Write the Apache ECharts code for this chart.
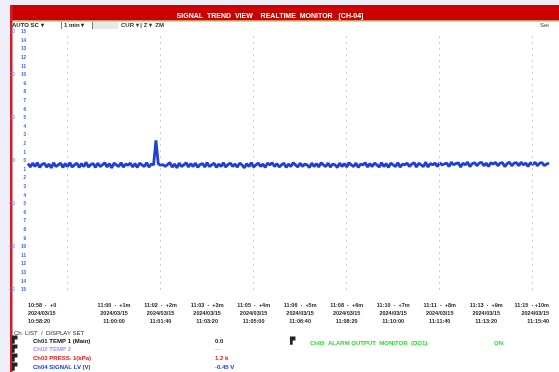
<!DOCTYPE html>
<html><head><meta charset="utf-8">
<script src="https://cdn.jsdelivr.net/npm/echarts@6/dist/echarts.min.js"></script>
<style>html,body{margin:0;padding:0;background:#eeeef8}#c{width:559px;height:372px}</style>
</head><body><div id="c"></div>
<script>
const titleText = 'SIGNAL  TREND  VIEW    REALTIME  MONITOR   [CH-04]';
const xStart = -85, xStep = 5;
const xLabelValues = [-85, 100, 200, 300, 400, 500, 600, 700, 800, 900, 1035];
const xLabels = [
 '10:58  ·  +0\n2024/03/15\n10:58:20',
 '11:00  ·  +1m\n2024/03/15\n11:00:00',
 '11:02  ·  +2m\n2024/03/15\n11:01:40',
 '11:03  ·  +3m\n2024/03/15\n11:03:20',
 '11:05  ·  +4m\n2024/03/15\n11:05:00',
 '11:06  ·  +5m\n2024/03/15\n11:06:40',
 '11:08  ·  +6m\n2024/03/15\n11:08:20',
 '11:10  ·  +7m\n2024/03/15\n11:10:00',
 '11:11  ·  +8m\n2024/03/15\n11:11:40',
 '11:13  ·  +9m\n2024/03/15\n11:13:20',
 '11:15  · +10m\n2024/03/15\n11:15:40'
];
const gridValues = [0, 200, 400, 600, 800, 1000];
const signal = [
 -0.30,-0.70,-0.25,-0.65,-0.20,-0.75,-0.40,-0.25,-0.70,-0.35,-0.80,-0.20,-0.65,-0.45,-0.25,
 -0.75,-0.30,-0.65,-0.20,-0.70,-0.45,-0.25,-0.75,-0.30,-0.65,-0.15,-0.70,-0.40,-0.30,-0.75,
 -0.25,-0.65,-0.45,-0.20,-0.70,-0.30,-0.80,-0.25,-0.45,-0.65,-0.20,-0.70,-0.35,-0.50,-0.25,
 -0.70,-0.30,-0.75,-0.25,-0.45,-0.65,-0.20,-0.70,-0.35,-0.45, 2.40,-0.30,-0.50,-0.40,-0.65,
 -0.40,-0.20,-0.70,-0.35,-0.80,-0.25,-0.65,-0.45,-0.20,-0.70,-0.30,-0.65,-0.25,-0.75,-0.40,
 -0.30,-0.70,-0.20,-0.65,-0.45,-0.25,-0.75,-0.35,-0.65,-0.20,-0.70,-0.40,-0.25,-0.65,-0.35,
 -0.70,-0.25,-0.45,-0.80,-0.30,-0.65,-0.20,-0.70,-0.45,-0.25,-0.65,-0.35,-0.75,-0.25,-0.45,
 -0.20,-0.65,-0.30,-0.70,-0.45,-0.25,-0.75,-0.35,-0.65,-0.20,-0.45,-0.70,-0.25,-0.65,-0.35,
 -0.45,-0.75,-0.25,-0.65,-0.30,-0.70,-0.20,-0.45,-0.65,-0.25,-0.70,-0.35,-0.45,-0.75,-0.25,
 -0.65,-0.30,-0.70,-0.20,-0.45,-0.65,-0.25,-0.75,-0.35,-0.45,-0.20,-0.70,-0.30,-0.65,-0.25,
 -0.45,-0.70,-0.20,-0.65,-0.30,-0.75,-0.25,-0.45,-0.65,-0.20,-0.70,-0.35,-0.45,-0.25,-0.65,
 -0.35,-0.20,-0.70,-0.25,-0.45,-0.65,-0.15,-0.70,-0.30,-0.45,-0.25,-0.65,-0.20,-0.45,-0.35,
 -0.25,-0.65,-0.15,-0.45,-0.30,-0.20,-0.70,-0.25,-0.45,-0.15,-0.65,-0.30,-0.20,-0.55,-0.25,
 -0.15,-0.55,-0.25,-0.65,-0.20,-0.35,-0.15,-0.55,-0.25,-0.20,-0.65,-0.30,-0.15,-0.55,-0.25,
 -0.20,-0.55,-0.15,-0.45,-0.25,-0.65,-0.20,-0.40,-0.15,-0.55,-0.25,-0.20,-0.55,-0.35,-0.25
];
const legendHeader = 'Ch. LIST  /  DISPLAY SET';
const legendRows = ['Ch01 TEMP 1 (Main)', 'Ch02 TEMP 2', 'Ch03 PRESS. 1(kPa)', 'Ch04 SIGNAL LV (V)'];
const legendValues = ['0.0', '---', '1.2 k', '-0.45 V'];
const legendColors = ['#111111', '#a98cff', '#ee1111', '#1133ee'];
const alarmText = 'Ch05  ALARM OUTPUT  MONITOR  (DO1)';
const alarmState = 'ON';

const chart = echarts.init(document.getElementById('c'), null, {renderer: 'canvas'});
const seriesData = signal.map((v, i) => [xStart + i * xStep, v]);
const font = 'Liberation Sans';
const graphics = [
  {type:'rect', z:-10, shape:{x:10,y:5,width:549,height:367}, style:{fill:'#ffffff'}},
  {type:'rect', z:-9, shape:{x:10,y:5,width:549,height:15}, style:{fill:'#cc0000'}},
  {type:'rect', z:-9, shape:{x:10,y:20,width:549,height:1.5}, style:{fill:'#c49a5a'}},
  {type:'rect', z:-9, shape:{x:10,y:5,width:2.5,height:367}, style:{fill:'#cc1f2a'}},
  {type:'rect', z:-9, shape:{x:93,y:22,width:25,height:7}, style:{fill:'#e8e8e8'}},
  {type:'text', z:5, x:12, y:22, style:{text:'AUTO SC ▾', font:'bold 6px '+font, fill:'#222'}},
  {type:'rect', z:5, shape:{x:61,y:22,width:0.8,height:7}, style:{fill:'#555'}},
  {type:'text', z:5, x:64, y:22, style:{text:'1 min ▾', font:'bold 6px '+font, fill:'#222'}},
  {type:'rect', z:5, shape:{x:92,y:22,width:0.8,height:7}, style:{fill:'#555'}},
  {type:'text', z:5, x:121, y:22, style:{text:'CUR ▾ | Z ▾  ZM', font:'bold 6px '+font, fill:'#333'}},
  {type:'text', z:5, x:540, y:22, style:{text:'Set', font:'6px '+font, fill:'#444'}},
  {type:'text', z:5, x:14, y:330, style:{text:legendHeader, font:'6px '+font, fill:'#333'}},
  {type:'text', z:5, x:290, y:338, style:{text:'▛', font:'7px '+font, fill:'#222'}},
  {type:'text', z:5, x:310, y:340, style:{text:alarmText, font:'bold 6px '+font, fill:'#22dd22'}},
  {type:'text', z:5, x:494, y:340, style:{text:alarmState, font:'bold 6px '+font, fill:'#22dd22'}}
];
legendRows.forEach((t, i) => {
  const y = 338 + i * 8.7;
  graphics.push({type:'text', z:5, x:12, y:y-1, style:{text:'▛', font:'7px '+font, fill:'#222'}});
  graphics.push({type:'text', z:5, x:33, y:y, style:{text:t, font:'bold 6px '+font, fill:legendColors[i]}});
  graphics.push({type:'text', z:5, x:215, y:y, style:{text:legendValues[i], font:'bold 6px '+font, fill:legendColors[i]}});
});

chart.setOption({
  backgroundColor: '#eeeef8',
  animation: false,
  title: {text: titleText, left: 265, top: 8, textAlign: 'center',
    textStyle: {color: '#ffffff', fontSize: 7, fontWeight: 'bold', fontFamily: font}},
  grid: {left: 28, right: 10, top: 32, bottom: 82},
  graphic: graphics,
  xAxis: {
    type: 'value', min: -85, max: 1035,
    axisLine: {show: false}, axisTick: {show: false}, splitLine: {show: false},
    axisLabel: {
      customValues: xLabelValues, showMinLabel: true, showMaxLabel: true,
      alignMinLabel: 'left', alignMaxLabel: 'right',
      fontSize: 5.5, lineHeight: 8, color: '#222', fontFamily: font, fontWeight: 'bold', margin: 11,
      formatter: (v) => { const k = xLabelValues.indexOf(v); return k >= 0 ? xLabels[k] : ''; }
    }
  },
  yAxis: [
    {type: 'value', min: -15, max: 15, interval: 1, position: 'left',
     axisLine: {show: false}, axisTick: {show: false}, splitLine: {show: false},
     axisLabel: {fontSize: 4.5, color: '#3355ee', margin: 2, fontFamily: font, fontWeight: 'bold',
       formatter: (v) => String(Math.abs(v))}},
    {type: 'value', min: -15, max: 15, interval: 5, position: 'left', offset: 11,
     axisLine: {show: false}, axisTick: {show: false}, splitLine: {show: false},
     axisLabel: {fontSize: 4.5, color: '#5577ee', margin: 2, fontFamily: font,
       formatter: (v) => (v * 2).toString()}}
  ],
  series: [{
    type: 'line', data: seriesData, showSymbol: false, symbol: 'none',
    lineStyle: {color: '#1f3fd6', width: 2.8},
    markLine: {silent: true, symbol: 'none', label: {show: false},
      lineStyle: {color: '#cfcfcf', type: [2, 4], width: 1},
      data: gridValues.map(v => ({xAxis: v}))}
  }]
});
</script></body></html>
